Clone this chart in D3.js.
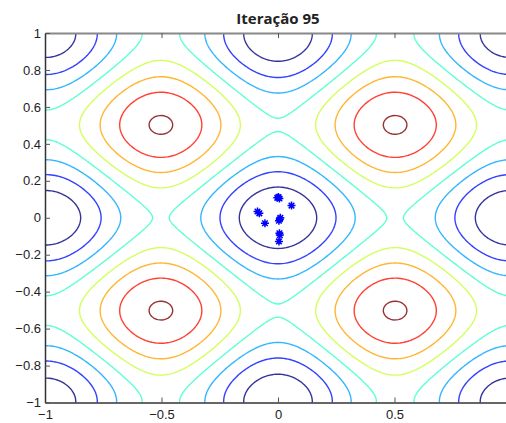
<!DOCTYPE html>
<html>
<head>
<meta charset="utf-8">
<script src="https://cdn.jsdelivr.net/npm/d3@7"></script>
<style>
  body { margin: 0; background: #fff; }
  svg { display: block; }
</style>
</head>
<body>
<div id="chart"></div>
<script>
// Title and axes (the x = 1 label falls outside the cropped picture)
const title = "Iteração 95";
const xTicks = [-1, -0.5, 0, 0.5, 1];
const xTickLabels = ["\u22121", "\u22120.5", "0", "0.5", ""];
const yTicks = [-1, -0.8, -0.6, -0.4, -0.2, 0, 0.2, 0.4, 0.6, 0.8, 1];
const yTickLabels = ["\u22121", "\u22120.8", "\u22120.6", "\u22120.4", "\u22120.2", "0", "0.2", "0.4", "0.6", "0.8", "1"];

// Contour levels of the objective (Rastrigin) and their jet colours
const levels = [5, 10, 15, 20, 25, 30, 35, 40];
const levelColors = ["#000080", "#0012ff", "#00a4ff", "#36ffc8", "#c8ff36", "#ffa400", "#ff1200", "#800000"];

// Particle positions at iteration 95
const particleX = [0.002, 0.006, -0.003, 0.058, -0.088, -0.080, -0.056, 0.008, 0.004, 0.010, 0.006, 0.008, 0.004];
const particleY = [0.112, 0.104, 0.108, 0.066, 0.034, 0.024, -0.030, -0.008, -0.016, 0.000, -0.084, -0.094, -0.128];

// Objective function that the swarm minimises
function rastrigin(a, b) {
    return 20 + a * a + b * b - 10 * Math.cos(2 * Math.PI * a) - 10 * Math.cos(2 * Math.PI * b);
}

const width = 506, height = 423;
const plot = {left: 45, right: 511, top: 33, bottom: 402.5};

const svg = d3.select("#chart")
    .append("svg")
    .attr("width", width)
    .attr("height", height)
    .style("overflow", "hidden");

const x = d3.scaleLinear().domain([-1, 1]).range([plot.left, plot.right]);
const y = d3.scaleLinear().domain([-1, 1]).range([plot.bottom, plot.top]);

// Sample the function on a grid a bit larger than the axes
const n = 261, lo = -1.1, hi = 1.1;
const step = (hi - lo) / (n - 1);
const values = new Array(n * n);
for (let j = 0; j < n; j++) {
    for (let i = 0; i < n; i++) {
        values[j * n + i] = rastrigin(lo + i * step, lo + j * step);
    }
}

const contours = d3.contours()
    .size([n, n])
    .thresholds(levels)(values);

const project = d3.geoTransform({
    point(px, py) {
        this.stream.point(x(lo + (px - 0.5) * step), y(lo + (py - 0.5) * step));
    }
});
const path = d3.geoPath(project);

svg.append("clipPath")
    .attr("id", "clip")
    .append("rect")
    .attr("x", plot.left)
    .attr("y", plot.top)
    .attr("width", plot.right - plot.left)
    .attr("height", plot.bottom - plot.top);

const g = svg.append("g").attr("clip-path", "url(#clip)");

g.selectAll("path.level")
    .data(contours)
    .enter()
    .append("path")
    .attr("class", "level")
    .attr("d", path)
    .attr("fill", "none")
    .attr("stroke", (d, i) => levelColors[i])
    .attr("stroke-opacity", 0.8)
    .attr("stroke-width", 1.4);

// Particles drawn as '*' markers
const star = "M-4,0H4M0,-4V4M-2.8,-2.8L2.8,2.8M-2.8,2.8L2.8,-2.8";
g.selectAll("path.particle")
    .data(particleX.map((d, i) => [d, particleY[i]]))
    .enter()
    .append("path")
    .attr("class", "particle")
    .attr("d", star)
    .attr("transform", d => `translate(${x(d[0])},${y(d[1])})`)
    .attr("fill", "none")
    .attr("stroke", "#0000ff")
    .attr("stroke-width", 1.5);

// Axes with inward ticks
const xAxis = svg.append("g")
    .attr("transform", `translate(0,${plot.bottom})`)
    .call(d3.axisBottom(x).tickValues(xTicks)
        .tickFormat((d, i) => xTickLabels[i])
        .tickSizeInner(-5).tickSizeOuter(0).tickPadding(7));

const topAxis = svg.append("g")
    .attr("transform", `translate(0,${plot.top})`)
    .call(d3.axisTop(x).tickValues(xTicks)
        .tickFormat("")
        .tickSizeInner(-5).tickSizeOuter(0));

const yAxis = svg.append("g")
    .attr("transform", `translate(${plot.left},0)`)
    .call(d3.axisLeft(y).tickValues(yTicks)
        .tickFormat((d, i) => yTickLabels[i])
        .tickSizeInner(-5).tickSizeOuter(0).tickPadding(4));

svg.selectAll(".domain").attr("stroke", "#333").attr("stroke-width", 1.5);
topAxis.select(".domain").attr("stroke", "#888").attr("stroke-width", 2);
svg.selectAll(".tick line").attr("stroke", "#555");
svg.selectAll(".tick text")
    .attr("font-family", "Liberation Sans, Arial, sans-serif")
    .attr("font-size", 13)
    .attr("fill", "#222");

svg.append("text")
    .attr("x", (plot.left + plot.right) / 2)
    .attr("y", 24)
    .attr("text-anchor", "middle")
    .attr("font-family", "Open Sans, sans-serif")
    .attr("font-weight", "bold")
    .attr("font-size", 15)
    .attr("fill", "#222")
    .text(title);
</script>
</body>
</html>
